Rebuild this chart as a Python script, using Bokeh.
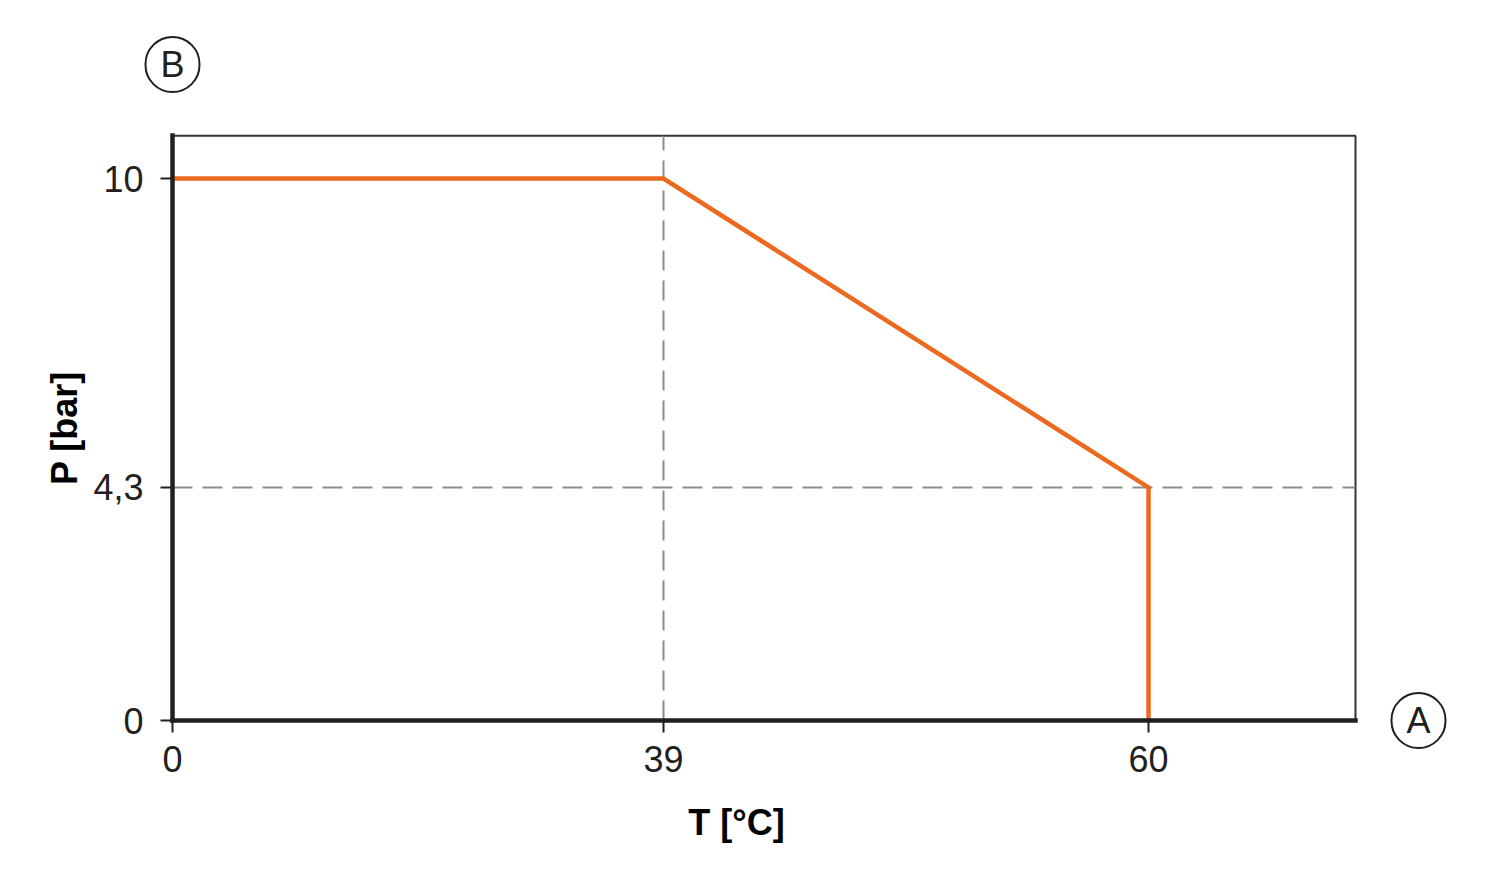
import numpy as np
from bokeh.plotting import figure
from bokeh.models import (Range1d, FixedTicker, Label, ColumnDataSource,
                          CustomJSTransform, BoxAnnotation)
from bokeh.transform import transform
from bokeh.embed import file_html
from bokeh.resources import INLINE

# ---------------- data ----------------
T_VALUES = [0, 39, 60, 60]          # temperature [°C]
P_VALUES = [10, 10, 4.3, 0]         # pressure [bar]
X_TICKS = [0, 39, 60]
X_TICK_LABELS = ["0", "39", "60"]
Y_TICKS = [0, 4.3, 10]
Y_TICK_LABELS = ["0", "4,3", "10"]
GUIDE_T = [39]                      # dashed guide at T = 39
GUIDE_P = [4.3]                     # dashed guide at P = 4,3
T_MIN, T_MAX = 0, 69                # extent of the drawing box along T
P_MIN, P_MAX = 0, 10.79             # extent of the drawing box along P
X_TITLE = "T [°C]"
Y_TITLE = "P [bar]"
X_MARK = "A"
Y_MARK = "B"

# schematic (non-proportional) temperature axis: T knots -> horizontal position
T_KNOTS = [0, 39, 60, 69]
POS_KNOTS = [0, 491, 976, 1183]

def to_pos(t):
    return float(np.interp(t, T_KNOTS, POS_KNOTS))

tx = CustomJSTransform(
    args=dict(kx=T_KNOTS, kp=POS_KNOTS),
    func="""
    for (let i = 0; i < kx.length - 1; i++) {
      if (x <= kx[i+1]) return kp[i] + (x - kx[i]) * (kp[i+1] - kp[i]) / (kx[i+1] - kx[i]);
    }
    return kp[kp.length-1];
    """,
    v_func="""
    const out = new Array(xs.length);
    for (let j = 0; j < xs.length; j++) {
      const x = xs[j];
      let v = kp[kp.length-1];
      for (let i = 0; i < kx.length - 1; i++) {
        if (x <= kx[i+1]) { v = kp[i] + (x - kx[i]) * (kp[i+1] - kp[i]) / (kx[i+1] - kx[i]); break; }
      }
      out[j] = v;
    }
    return out;
    """,
)

FONT = "Liberation Sans"
INK = "#231f20"
ORANGE = "#ec6a1f"
GUIDE = "#8c8c8c"
PX_PER_BAR = 54.2
W, H = 1484, 874
X0, Y0 = 172, 720                     # where T=0 / P=0 sit on the canvas

p = figure(width=W, height=H, output_backend="svg", toolbar_location=None,
           x_range=Range1d(-X0, W - X0),
           y_range=Range1d(-(H - Y0) / PX_PER_BAR, Y0 / PX_PER_BAR),
           min_border=0)
p.background_fill_color = "white"
p.border_fill_color = "white"
p.outline_line_color = None
p.grid.visible = False

# axes, fixed at the origin of the drawing box
p.xaxis.fixed_location = P_MIN
p.yaxis.fixed_location = to_pos(T_MIN)
p.xaxis.bounds = (to_pos(T_MIN), to_pos(T_MAX))
p.yaxis.bounds = (P_MIN, P_MAX)
p.xaxis.ticker = FixedTicker(ticks=[to_pos(t) for t in X_TICKS])
p.xaxis.major_label_overrides = {to_pos(t): lab for t, lab in zip(X_TICKS, X_TICK_LABELS)}
p.yaxis.ticker = FixedTicker(ticks=Y_TICKS)
p.yaxis.major_label_overrides = {t: lab for t, lab in zip(Y_TICKS, Y_TICK_LABELS)}
for ax in (p.xaxis, p.yaxis):
    ax.axis_line_color = INK
    ax.axis_line_width = 4.5
    ax.axis_line_cap = "square"
    ax.major_tick_line_color = INK
    ax.major_tick_line_width = 2
    ax.major_tick_in = 0
    ax.major_tick_out = 12
    ax.minor_tick_line_color = None
    ax.major_label_text_font = FONT
    ax.major_label_text_font_size = "36px"
    ax.major_label_text_color = INK
p.xaxis.major_label_standoff = 13
p.yaxis.major_label_standoff = 17
p.yaxis.axis_label = Y_TITLE
p.yaxis.axis_label_text_font = FONT
p.yaxis.axis_label_text_font_size = "36px"
p.yaxis.axis_label_text_font_style = "bold"
p.yaxis.axis_label_text_color = "black"
p.yaxis.axis_label_standoff = 5

# drawing box (top and right edges; left/bottom are covered by the axes)
p.add_layout(BoxAnnotation(left=to_pos(T_MIN), right=to_pos(T_MAX), bottom=P_MIN, top=P_MAX,
                           fill_alpha=0, line_color="#333333", line_alpha=1, line_width=2,
                           level="underlay"))

# dashed guides
gsrc_v = ColumnDataSource(dict(T=GUIDE_T, p0=[P_MIN] * len(GUIDE_T), p1=[P_MAX] * len(GUIDE_T)))
p.segment(x0=transform("T", tx), x1=transform("T", tx), y0="p0", y1="p1", source=gsrc_v,
          line_color=GUIDE, line_width=2, line_dash="20 10")
gsrc_h = ColumnDataSource(dict(P=GUIDE_P, t0=[T_MIN] * len(GUIDE_P), t1=[T_MAX] * len(GUIDE_P)))
p.segment(x0=transform("t0", tx), x1=transform("t1", tx), y0="P", y1="P", source=gsrc_h,
          line_color=GUIDE, line_width=2, line_dash="20 10")

# curve
src = ColumnDataSource(dict(T=T_VALUES, P=P_VALUES))
p.line(x=transform("T", tx), y="P", source=src, line_color=ORANGE,
       line_width=4.5, line_join="miter")

# x title
p.add_layout(Label(x=564, y=(Y0 - 822) / PX_PER_BAR, text=X_TITLE,
                   text_align="center", text_baseline="middle", text_font=FONT,
                   text_font_size="36px", text_font_style="bold", text_color="black"))

# circled axis markers
for x, y, t in ((0, (Y0 - 64) / PX_PER_BAR, Y_MARK), (1246, 0, X_MARK)):
    p.add_layout(Label(x=x, y=y, text=t, text_align="center", text_baseline="middle",
                       text_font=FONT, text_font_size="36px", text_color=INK,
                       border_line_color=INK, border_line_width=2,
                       background_fill_color="white",
                       padding=dict(left=15, right=15, top=7, bottom=7),
                       border_radius=28))

open("out.html", "w").write(file_html(p, INLINE))
